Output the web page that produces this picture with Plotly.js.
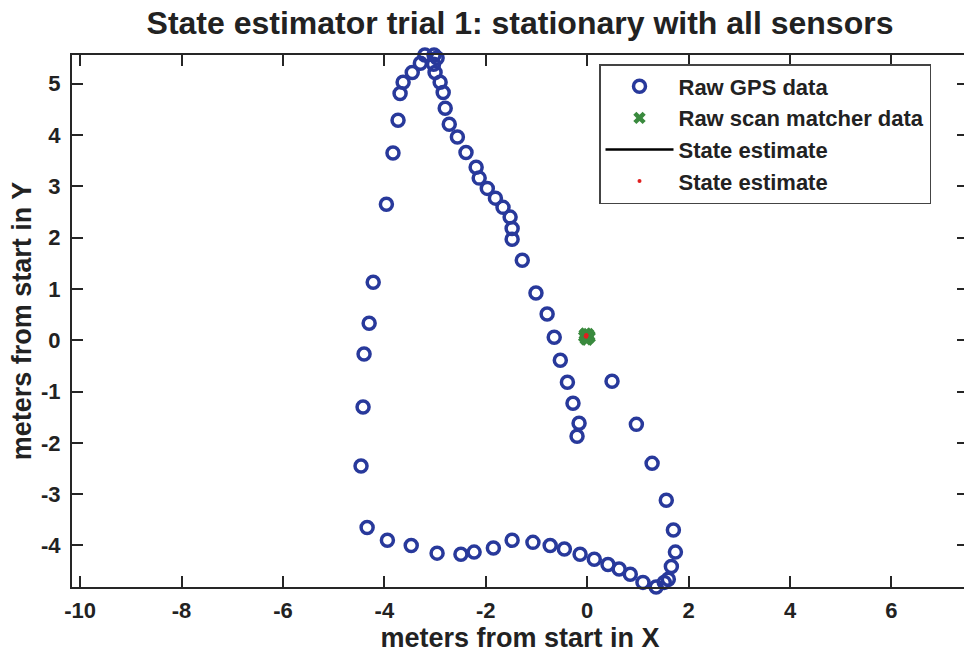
<!DOCTYPE html>
<html>
<head>
<meta charset="utf-8">
<script src="https://cdn.plot.ly/plotly-3.0.1.min.js"></script>
<style>
html, body { margin: 0; padding: 0; overflow: hidden; background: #fff; }
#chart { width: 972px; height: 656px; }
</style>
</head>
<body>
<div id="chart"></div>
<script>
// Raw GPS data (meters)
const gpsX = [
  -3.83, -3.73, -3.69, -3.63, -3.45, -3.29, -3.20, -3.10, -3.02, -2.96, -3.03, -3.00, -2.90,
  -2.84, -2.80, -2.72, -2.56, -2.39, -2.19, -2.13, -1.97, -1.81, -1.66, -1.52, -1.48, -1.48,
  -1.28, -1.01, -0.79, -0.65, -0.53, -0.39, -0.28, -0.16, -0.20,
  -3.96, -4.22, -4.30, -4.40, -4.42, -4.46, -4.34,
  -3.94, -3.47, -2.96, -2.49, -2.23, -1.85, -1.48, -1.07, -0.73, -0.45, -0.14, 0.14, 0.41,
  0.63, 0.85, 1.10, 1.36, 1.52, 1.60, 1.66, 1.74, 1.70, 1.56,
  1.28, 0.97, 0.49
];
const gpsY = [
  3.65, 4.29, 4.81, 5.03, 5.22, 5.40, 5.56, 5.57, 5.56, 5.50, 5.38, 5.22, 5.03,
  4.83, 4.52, 4.21, 3.96, 3.66, 3.37, 3.16, 2.96, 2.77, 2.59, 2.40, 2.18, 1.97,
  1.56, 0.92, 0.51, 0.06, -0.39, -0.82, -1.23, -1.62, -1.87,
  2.65, 1.13, 0.33, -0.27, -1.30, -2.45, -3.65,
  -3.90, -4.00, -4.15, -4.17, -4.13, -4.05, -3.90, -3.94, -4.00, -4.07, -4.17, -4.27, -4.37,
  -4.46, -4.56, -4.72, -4.81, -4.72, -4.66, -4.41, -4.13, -3.70, -3.12,
  -2.40, -1.64, -0.80
];
// Raw scan matcher data (meters)
const scanX = [-0.06, -0.03, 0.02, 0.05, -0.05, 0.00, 0.04, -0.03, 0.01, -0.01];
const scanY = [0.07, 0.13, 0.12, 0.06, 0.11, 0.01, 0.09, 0.02, 0.04, 0.08];
// State estimate (meters)
const estX = [-0.03, -0.02, -0.01, -0.02];
const estY = [0.08, 0.10, 0.09, 0.07];

const xTickVals = [-10, -8, -6, -4, -2, 0, 2, 4, 6];
const xTickText = ['-10', '-8', '-6', '-4', '-2', '0', '2', '4', '6'];
const yTickVals = [-4, -3, -2, -1, 0, 1, 2, 3, 4, 5];
const yTickText = ['-4', '-3', '-2', '-1', '0', '1', '2', '3', '4', '5'];

const axisColor = '#262626';
const font = 'Liberation Sans, Arial, sans-serif';

const traces = [
  {
    x: gpsX, y: gpsY, type: 'scatter', mode: 'markers', name: 'Raw GPS data',
    cliponaxis: false,
    marker: { symbol: 'circle-open', size: 12, color: '#28399b', line: { width: 3.5, color: '#28399b' } }
  },
  {
    x: scanX, y: scanY, type: 'scatter', mode: 'markers', name: 'Raw scan matcher data',
    cliponaxis: false,
    marker: { symbol: 'x', size: 11, color: '#3a8a3e' }
  },
  {
    x: estX, y: estY, type: 'scatter', mode: 'lines', name: 'State estimate',
    line: { color: '#000000', width: 2.5 }
  },
  {
    x: estX, y: estY, type: 'scatter', mode: 'markers', name: 'State estimate',
    cliponaxis: false,
    marker: { symbol: 'circle', size: 4, color: '#e02020' }
  }
];

const layout = {
  width: 972, height: 656,
  margin: { l: 72, r: 4, t: 55, b: 69 },
  paper_bgcolor: '#ffffff', plot_bgcolor: '#ffffff',
  font: { family: font, color: '#222222' },
  showlegend: true,
  title: {
    text: '<b>State estimator trial 1: stationary with all sensors</b>',
    font: { family: font, size: 32, color: '#222222' },
    x: 0.5, xref: 'paper', xanchor: 'center',
    y: 1 - 23 / 656, yref: 'container', yanchor: 'middle'
  },
  xaxis: {
    range: [-10.16, 7.51], autorange: false,
    tickvals: xTickVals, ticktext: xTickText,
    ticks: 'inside', ticklen: 11, tickwidth: 2, tickcolor: axisColor,
    showline: true, linecolor: axisColor, linewidth: 2, mirror: 'ticks',
    showgrid: false, zeroline: false,
    tickfont: { family: font, size: 22, color: '#222222', weight: 'bold' },
    ticklabelstandoff: 3,
    title: { text: '<b>meters from start in X</b>', font: { family: font, size: 27, color: '#222222' }, standoff: 6 }
  },
  yaxis: {
    range: [-4.81, 5.56], autorange: false,
    tickvals: yTickVals, ticktext: yTickText,
    ticks: 'inside', ticklen: 11, tickwidth: 2, tickcolor: axisColor,
    showline: true, linecolor: axisColor, linewidth: 2, mirror: 'ticks',
    showgrid: false, zeroline: false,
    tickfont: { family: font, size: 22, color: '#222222', weight: 'bold' },
    ticklabelstandoff: 5,
    title: { text: '<b>meters from start in Y</b>', font: { family: font, size: 27, color: '#222222' }, standoff: 2 }
  },
  legend: {
    x: (599 - 72) / 896, xanchor: 'left', xref: 'paper',
    y: (587 - 64) / 532, yanchor: 'top', yref: 'paper',
    bgcolor: '#ffffff', bordercolor: '#444444', borderwidth: 1.5,
    font: { family: font, size: 22, color: '#222222', weight: 'bold' },
    itemwidth: 68, tracegroupgap: 0
  }
};

Plotly.newPlot('chart', traces, layout, { displayModeBar: false, staticPlot: true });
</script>
</body>
</html>
